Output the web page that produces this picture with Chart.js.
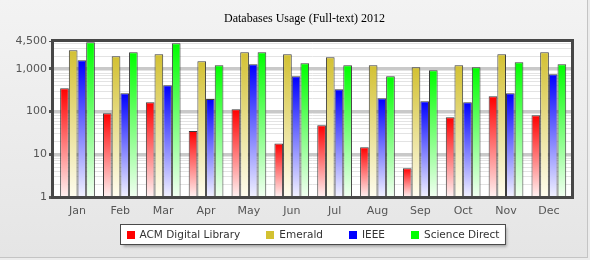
<!DOCTYPE html>
<html>
<head>
<meta charset="utf-8">
<script src="https://cdn.jsdelivr.net/npm/chart.js@4/dist/chart.umd.min.js"></script>
<style>
  html, body { margin: 0; padding: 0; background: #ececec; }
  #wrap { position: relative; width: 590px; height: 260px; }
  #bg { position: absolute; left: 0; top: 0; width: 587px; height: 257px;
        background: linear-gradient(#f3f3f3, #e5e5e5);
        border-right: 1px solid #c4c4c4; border-bottom: 1px solid #c4c4c4; }
  canvas { position: absolute; left: 0; top: 0; }
</style>
</head>
<body>
<div id="wrap">
  <div id="bg"></div>
  <canvas id="myChart" width="590" height="260"></canvas>
</div>
<script>
/*---------------------------- data ------------------------------------*/
var months = ['Jan','Feb','Mar','Apr','May','Jun','Jul','Aug','Sep','Oct','Nov','Dec'];
var seriesNames = ['ACM Digital Library', 'Emerald', 'IEEE', 'Science Direct'];

var acm     = [351, 91, 165, 35, 113, 18, 48, 14.6, 4.7, 74, 228, 82];
var emerald = [2727, 1972, 2198, 1507, 2447, 2198, 1870, 1214, 1090, 1214, 2198, 2447];
var ieee    = [1590, 268, 413, 197, 1282, 671, 333, 205, 174, 165, 268, 748];
var science = [4198, 2447, 3981, 1214, 2447, 1352, 1214, 671, 927, 1090, 1428, 1282];

var yTickLabels = [1, 10, 100, 1000, 4500];

var topColors = ['#ff0000', '#d3c132', '#0000ff', '#00ff00'];
var lowColors = ['#fff2f2', '#fffdf0', '#f2f2ff', '#f2fff2'];

/*---------------------------- helpers ------------------------------------*/
function barFill(i) {
  return function (c) {
    var chart = c.chart, area = chart.chartArea;
    if (!area || c.type !== 'data' || !c.parsed) return topColors[i];
    var y = chart.scales.y.getPixelForValue(c.parsed.y);
    var g = chart.ctx.createLinearGradient(0, y, 0, area.bottom);
    g.addColorStop(0, topColors[i]);
    g.addColorStop(1, lowColors[i]);
    return g;
  };
}

function isDecade(v) {
  var l = Math.log10(v);
  return Math.abs(l - Math.round(l)) < 1e-9;
}

// white plot background + dark frame, title centred over the plot
var plotFrame = {
  id: 'plotFrame',
  afterLayout: function (chart) {
    if (chart.titleBlock) chart.titleBlock.left = 37;
  },
  beforeDraw: function (chart) {
    var a = chart.chartArea, ctx = chart.ctx;
    ctx.save();
    ctx.fillStyle = '#ffffff';
    ctx.fillRect(a.left, a.top, a.right - a.left, a.bottom - a.top);
    ctx.restore();
  },
  afterDatasetsDraw: function (chart) {
    var a = chart.chartArea, ctx = chart.ctx;
    ctx.save();
    ctx.strokeStyle = '#474747';
    ctx.lineWidth = 3;
    ctx.strokeRect(a.left - 0.5, a.top - 0.5, a.right - a.left + 1, a.bottom - a.top + 1);
    ctx.restore();
  }
};

// boxed legend under the plot
var legendBox = {
  id: 'legendBox',
  afterDraw: function (chart) {
    var ctx = chart.ctx, a = chart.chartArea;
    var sq = 8, gapText = 5, gapItem = 26, padX = 6;
    ctx.save();
    ctx.font = '10.5px "DejaVu Sans"';
    var widths = seriesNames.map(function (s) { return ctx.measureText(s).width; });
    var total = padX * 2 + gapItem * (seriesNames.length - 1);
    widths.forEach(function (w) { total += sq + gapText + w; });
    var x0 = Math.round((a.left + a.right) / 2 - total / 2) + 0.5;
    var y0 = 224.5, h = 20;
    ctx.shadowColor = 'rgba(0,0,0,0.35)';
    ctx.shadowOffsetX = 2;
    ctx.shadowOffsetY = 2;
    ctx.shadowBlur = 3;
    ctx.fillStyle = '#ffffff';
    ctx.fillRect(x0, y0, total, h);
    ctx.shadowColor = 'transparent';
    ctx.strokeStyle = '#4a4a4a';
    ctx.lineWidth = 1;
    ctx.strokeRect(x0, y0, total, h);
    var x = x0 + padX, cy = y0 + h / 2;
    ctx.textBaseline = 'middle';
    seriesNames.forEach(function (s, i) {
      ctx.fillStyle = topColors[i];
      ctx.fillRect(Math.round(x), Math.round(cy - sq / 2), sq, sq);
      ctx.fillStyle = '#333333';
      ctx.fillText(s, x + sq + gapText, cy + 0.5);
      x += sq + gapText + widths[i] + gapItem;
    });
    ctx.restore();
  }
};

/*---------------------------- chart ------------------------------------*/
var allSeries = [acm, emerald, ieee, science];

new Chart('myChart', {
  type: 'bar',
  data: {
    labels: months,
    datasets: allSeries.map(function (d, i) {
      return {
        label: seriesNames[i],
        data: d.map(function (v, k) { return { x: k, y: v }; }),
        backgroundColor: barFill(i),
        borderColor: '#3c3c3c',
        borderWidth: 1,
        borderSkipped: 'bottom',
        inflateAmount: 0,
        categoryPercentage: 0.81,
        barPercentage: 1.0
      };
    })
  },
  options: {
    responsive: false,
    animation: false,
    layout: { padding: { left: 0, right: 18, top: 0, bottom: 0 } },
    plugins: {
      legend: { display: false },
      tooltip: { enabled: false },
      title: {
        display: true,
        text: 'Databases Usage (Full-text) 2012',
        color: '#000000',
        font: { family: '"Liberation Serif"', size: 12, weight: 'normal' },
        padding: { top: 12, bottom: 14.6 }
      }
    },
    scales: {
      x: {
        type: 'linear',
        min: -0.572,
        max: 11.54,
        offset: false,
        grid: { display: false, drawTicks: false, offset: false },
        border: { display: false },
        afterBuildTicks: function (s) {
          s.ticks = months.map(function (m, k) { return { value: k }; });
        },
        ticks: {
          autoSkip: false,
          maxRotation: 0,
          color: '#555555',
          font: { family: '"DejaVu Sans"', size: 11 },
          padding: 8,
          callback: function (v) { return months[v]; }
        },
        afterFit: function (s) { s.height = 63; }
      },
      y: {
        type: 'logarithmic',
        min: 1,
        max: 4500,
        border: { display: false },
        afterFit: function (s) { s.width = 53; },
        afterBuildTicks: function (s) {
          var t = [];
          for (var p = 1; p <= 1000; p *= 10) {
            for (var m = 1; m <= 9; m++) {
              if (p * m < 4500) t.push({ value: p * m });
            }
          }
          t.push({ value: 4500 });
          s.ticks = t;
        },
        grid: {
          tickLength: 4,
          color: function (c) {
            return c.tick && isDecade(c.tick.value) ? '#c9c9c9' : '#e3e3e3';
          },
          lineWidth: function (c) {
            return c.tick && isDecade(c.tick.value) ? 3 : 1;
          },
          tickColor: function (c) {
            return c.tick && yTickLabels.indexOf(c.tick.value) >= 0 ? '#555555' : 'rgba(0,0,0,0)';
          }
        },
        ticks: {
          autoSkip: false,
          padding: 2,
          color: '#555555',
          font: { family: '"DejaVu Sans"', size: 11 },
          callback: function (v) {
            return yTickLabels.indexOf(v) >= 0 ? v.toLocaleString('en-US') : '';
          }
        }
      }
    }
  },
  plugins: [plotFrame, legendBox]
});
</script>
</body>
</html>
